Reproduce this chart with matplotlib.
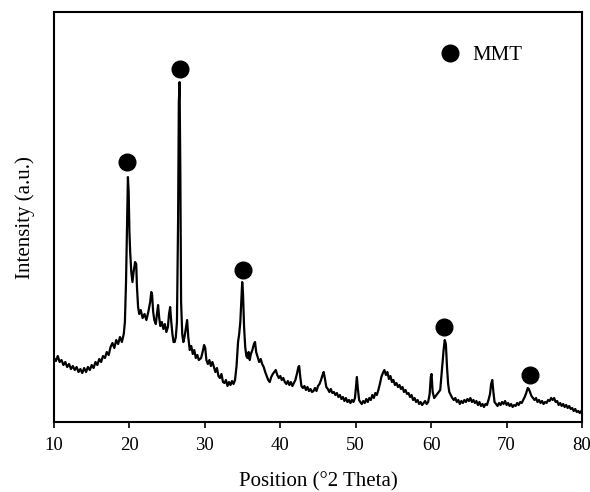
import matplotlib
matplotlib.use("Agg")
import matplotlib.pyplot as plt
from matplotlib.lines import Line2D

plt.rcParams['font.family'] = ['Liberation Serif', 'DejaVu Serif']

# XRD pattern (2theta in degrees, intensity in a.u.)
two_theta = [
    10.0, 10.25, 10.5, 10.75, 11.0, 11.25, 11.5, 11.75, 12.0, 12.25, 12.5, 12.75,
    13.0, 13.25, 13.5, 13.75, 14.0, 14.25, 14.5, 14.75, 15.0, 15.25, 15.5, 15.75,
    16.0, 16.25, 16.5, 16.75, 17.0, 17.25, 17.5, 17.75, 18.0, 18.25, 18.5, 18.75,
    19.0, 19.25, 19.4, 19.55, 19.7, 19.8, 19.9, 20.0, 20.1, 20.25, 20.4, 20.55,
    20.75, 20.9, 21.0, 21.15, 21.3, 21.5, 21.75, 22.0, 22.25, 22.5, 22.75, 22.9,
    23.0, 23.15, 23.3, 23.5, 23.65, 23.8, 23.95, 24.1, 24.3, 24.5, 24.7, 24.9,
    25.1, 25.25, 25.4, 25.55, 25.7, 25.85, 26.0, 26.15, 26.3, 26.45, 26.55, 26.65,
    26.75, 26.85, 27.0, 27.15, 27.3, 27.5, 27.65, 27.8, 28.0, 28.2, 28.4, 28.6,
    28.8, 29.0, 29.2, 29.5, 29.7, 29.9, 30.05, 30.2, 30.4, 30.6, 30.8, 31.0,
    31.2, 31.4, 31.6, 31.8, 32.0, 32.2, 32.4, 32.6, 32.8, 33.0, 33.2, 33.4,
    33.6, 33.8, 34.0, 34.2, 34.4, 34.55, 34.7, 34.85, 34.95, 35.05, 35.2, 35.35,
    35.5, 35.65, 35.8, 35.95, 36.1, 36.3, 36.5, 36.65, 36.8, 37.0, 37.2, 37.4,
    37.6, 37.8, 38.0, 38.2, 38.4, 38.6, 38.8, 39.0, 39.2, 39.4, 39.6, 39.8,
    40.0, 40.2, 40.4, 40.6, 40.8, 41.0, 41.2, 41.4, 41.6, 41.8, 42.0, 42.2,
    42.4, 42.5, 42.65, 42.8, 43.0, 43.2, 43.4, 43.6, 43.8, 44.0, 44.2, 44.4,
    44.6, 44.8, 45.0, 45.2, 45.4, 45.6, 45.75, 45.9, 46.1, 46.3, 46.5, 46.7,
    46.9, 47.1, 47.3, 47.5, 47.7, 47.9, 48.1, 48.3, 48.5, 48.7, 48.9, 49.1,
    49.3, 49.5, 49.7, 49.9, 50.05, 50.15, 50.3, 50.45, 50.6, 50.8, 51.0, 51.2,
    51.4, 51.6, 51.8, 52.0, 52.2, 52.4, 52.6, 52.8, 53.0, 53.2, 53.4, 53.6,
    53.8, 54.0, 54.2, 54.4, 54.6, 54.8, 55.0, 55.2, 55.4, 55.6, 55.8, 56.0,
    56.2, 56.4, 56.6, 56.8, 57.0, 57.2, 57.4, 57.6, 57.8, 58.0, 58.2, 58.4,
    58.6, 58.8, 59.0, 59.2, 59.4, 59.6, 59.8, 59.95, 60.05, 60.2, 60.4, 60.6,
    60.8, 61.0, 61.2, 61.35, 61.5, 61.65, 61.8, 61.95, 62.1, 62.25, 62.4, 62.6,
    62.8, 63.0, 63.2, 63.4, 63.6, 63.8, 64.0, 64.2, 64.4, 64.6, 64.8, 65.0,
    65.2, 65.4, 65.6, 65.8, 66.0, 66.2, 66.4, 66.6, 66.8, 67.0, 67.2, 67.4,
    67.6, 67.8, 67.95, 68.1, 68.25, 68.4, 68.6, 68.8, 69.0, 69.2, 69.4, 69.6,
    69.8, 70.0, 70.2, 70.4, 70.6, 70.8, 71.0, 71.2, 71.4, 71.6, 71.8, 72.0,
    72.2, 72.4, 72.6, 72.8, 72.95, 73.1, 73.3, 73.5, 73.7, 73.9, 74.1, 74.3,
    74.5, 74.7, 74.9, 75.1, 75.3, 75.5, 75.7, 75.9, 76.1, 76.3, 76.5, 76.7,
    76.9, 77.1, 77.3, 77.5, 77.7, 77.9, 78.1, 78.3, 78.5, 78.7, 78.9, 79.1,
    79.3, 79.5, 79.7, 80.0,
]
intensity = [
    64, 61, 66, 60, 62, 57, 60, 55, 58, 53, 56, 52,
    55, 50, 53, 49, 54, 50, 55, 52, 57, 54, 60, 57,
    63, 60, 66, 64, 70, 67, 75, 79, 74, 82, 78, 85,
    80, 88, 100, 140, 200, 245, 230, 190, 170, 150, 140, 150,
    160, 158, 135, 115, 108, 112, 104, 108, 102, 110, 120, 130,
    128, 110, 102, 98, 108, 117, 104, 96, 100, 93, 98, 90,
    95, 108, 115, 100, 88, 80, 80, 85, 100, 200, 320, 340,
    250, 120, 88, 80, 85, 95, 102, 85, 72, 76, 68, 72,
    64, 67, 62, 64, 70, 77, 74, 62, 58, 62, 56, 60,
    55, 50, 54, 46, 44, 48, 40, 39, 42, 36, 40, 37,
    41, 38, 42, 56, 80, 88, 100, 125, 140, 130, 95, 75,
    66, 64, 70, 62, 68, 72, 78, 80, 70, 65, 60, 63,
    58, 55, 50, 46, 42, 40, 45, 48, 50, 52, 47, 44,
    46, 42, 44, 40, 38, 41, 37, 40, 36, 39, 42, 48,
    55, 56, 45, 36, 34, 36, 32, 35, 31, 33, 30, 31,
    34, 31, 36, 38, 42, 47, 50, 44, 35, 33, 30, 33,
    29, 30, 27, 29, 25, 27, 23, 25, 21, 24, 20, 22,
    19, 22, 20, 24, 36, 45, 32, 22, 20, 18, 21, 19,
    23, 20, 24, 22, 27, 24, 29, 27, 32, 38, 45, 49,
    52, 47, 50, 43, 46, 40, 42, 37, 39, 35, 37, 33,
    35, 30, 32, 28, 29, 25, 27, 22, 24, 20, 22, 18,
    20, 17, 19, 21, 18, 20, 28, 45, 48, 30, 24, 26,
    28, 30, 32, 45, 58, 72, 82, 78, 55, 38, 30, 27,
    24, 22, 24, 20, 22, 18, 21, 19, 22, 20, 23, 21,
    24, 20, 22, 19, 21, 17, 20, 16, 18, 15, 18, 17,
    22, 28, 38, 42, 30, 20, 18, 16, 19, 17, 20, 18,
    21, 17, 19, 16, 18, 15, 17, 16, 19, 17, 20, 19,
    22, 25, 29, 34, 33, 30, 26, 24, 22, 24, 20, 22,
    19, 21, 18, 20, 19, 22, 21, 24, 22, 24, 20, 21,
    17, 19, 16, 18, 15, 17, 14, 16, 13, 14, 11, 13,
    10, 11, 9, 12,
]

# MMT reflections marked with filled circles
mmt_pos = [19.7, 26.7, 35.05, 61.75, 73.1]
mmt_mark = [260, 353, 152, 95, 47]

fig = plt.figure(figsize=(5.9, 4.92), dpi=100)
ax = fig.add_axes([0.0915, 0.1423, 0.895, 0.833])

ax.plot(two_theta, intensity, color='black', lw=1.6)
ax.plot(mmt_pos, mmt_mark, 'o', color='black', ms=12, ls='none')

handle = Line2D([], [], marker='o', color='black', ls='none', ms=12)
ax.legend([handle], ['MMT'], loc='center left', bbox_to_anchor=(0.675, 0.895),
          frameon=False, fontsize=15, handletextpad=0.05)

ax.set_xlim(10, 80)
ax.set_ylim(0, 410)
ax.set_xticks(range(10, 81, 10))
ax.set_yticks([])
ax.tick_params(axis='x', direction='out', length=4, width=1.2, labelsize=13.5, pad=7)
for s in ax.spines.values():
    s.set_linewidth(1.5)

ax.set_xlabel('Position (°2 Theta)', fontsize=15, labelpad=13)
ax.set_ylabel('Intensity (a.u.)', fontsize=15, labelpad=14)

fig.savefig('out.png', dpi=100)
